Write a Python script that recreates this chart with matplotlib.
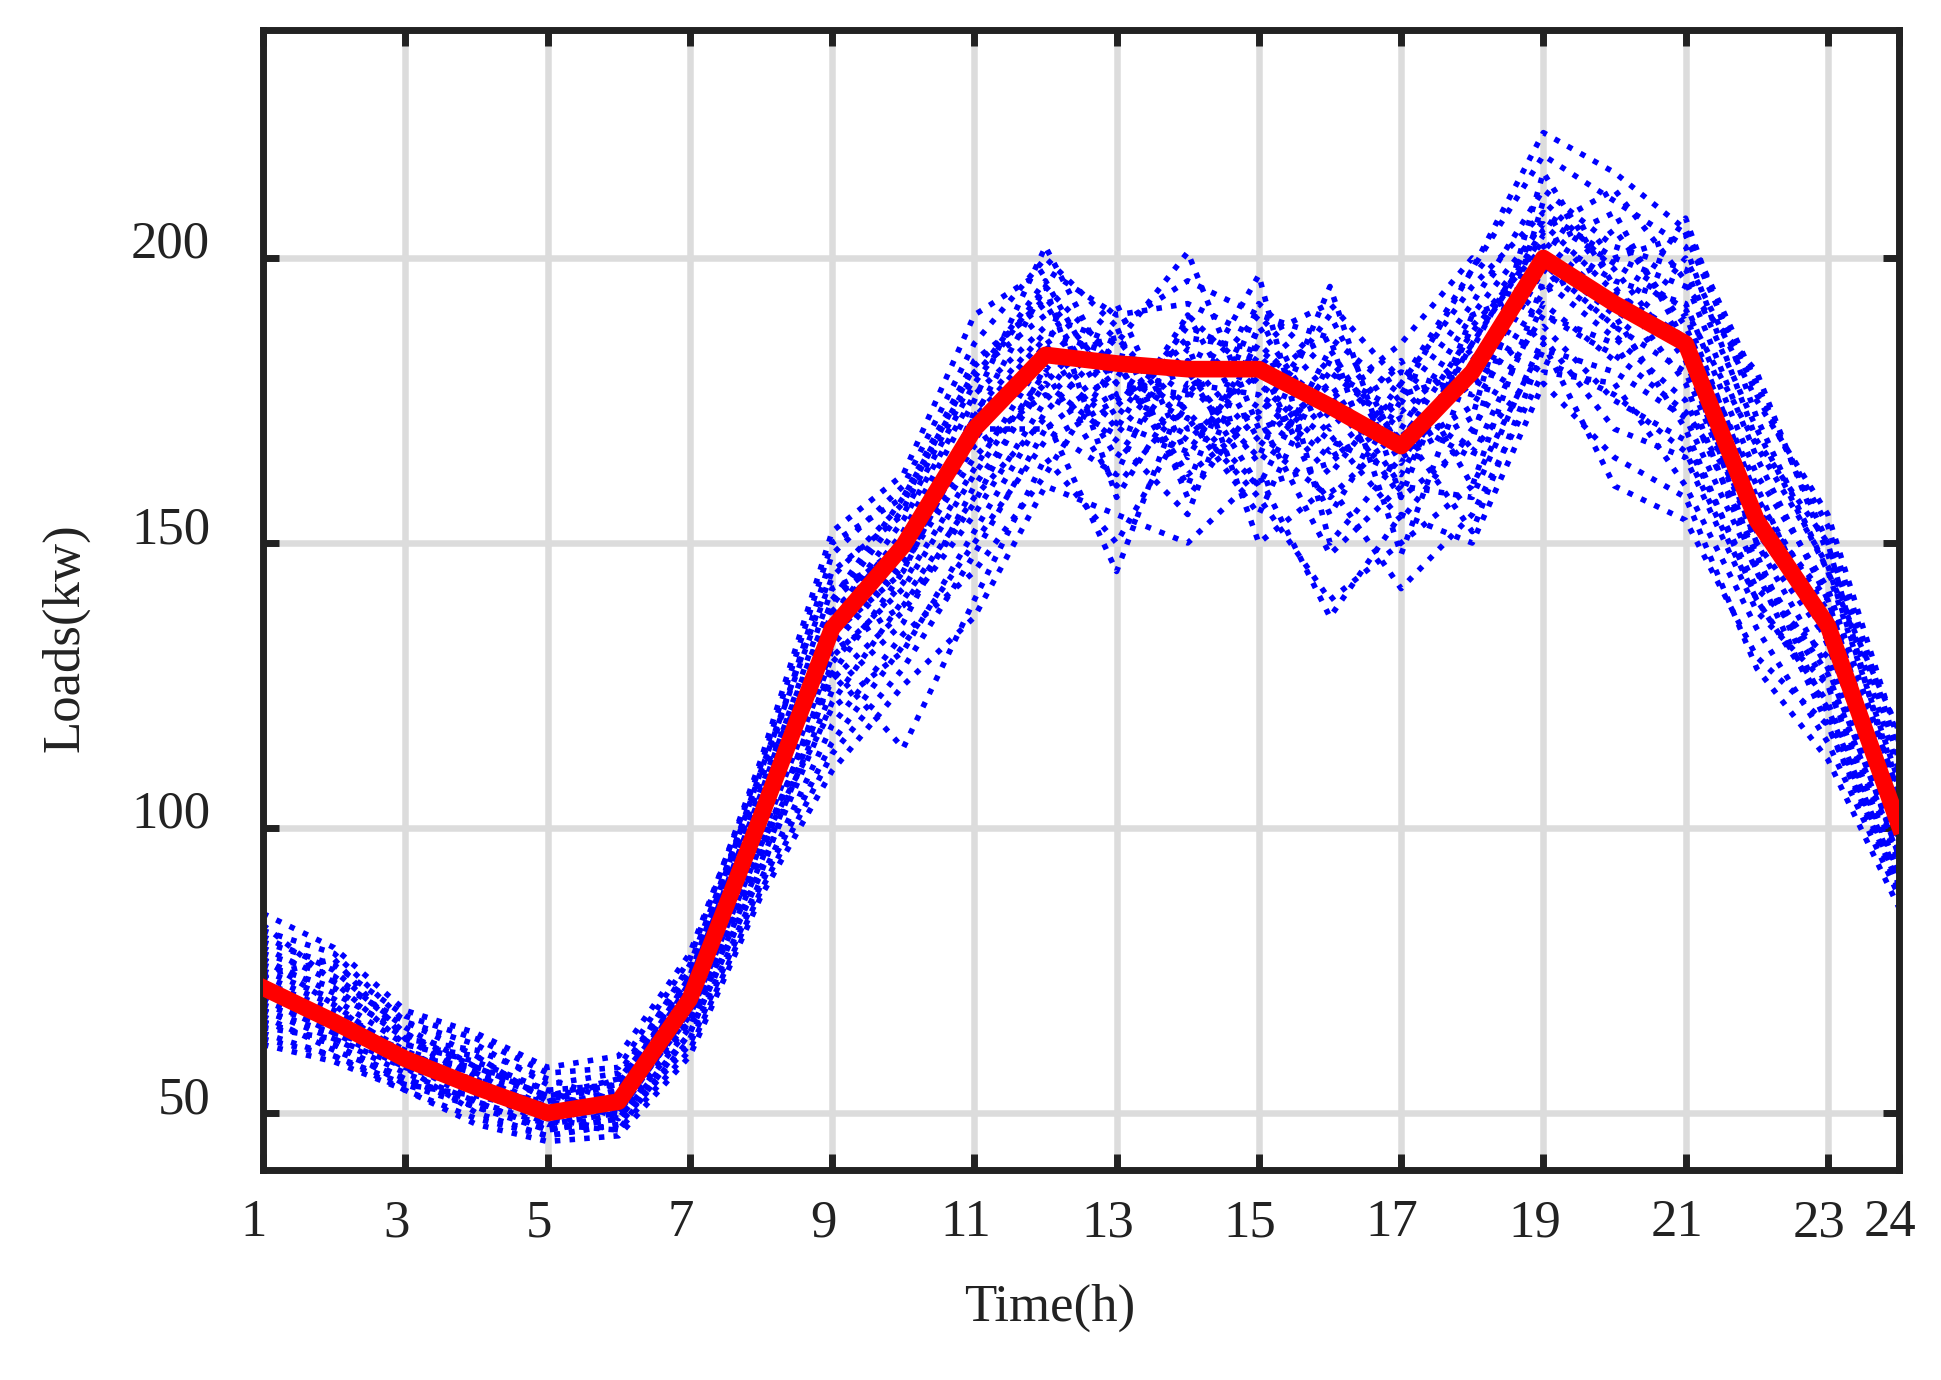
import matplotlib
matplotlib.use('Agg')
import matplotlib.pyplot as plt
import matplotlib.transforms as mtransforms

# data
hours = list(range(1, 25))

expected = [72, 66, 59.5, 54.5, 50, 52, 70, 102, 135, 149.5, 170, 183, 181.5, 180.5,
            180.5, 174, 167, 180, 200, 192, 185, 154, 135.5, 100.5]

scenarios = [
    [78, 74, 65, 58, 53, 55, 74, 108, 148, 160, 185, 200, 188, 196, 190, 186, 176, 198, 222, 215, 205, 178, 150, 112],
    [66, 62, 56, 52, 47, 49, 66, 96, 128, 114, 140, 165, 150, 172, 158, 140, 150, 160, 185, 160, 154, 130, 118, 90],
    [72, 66, 60, 55, 49, 51, 69, 103, 138, 150, 172, 186, 170, 190, 178, 168, 162, 185, 205, 212, 196, 165, 140, 104],
    [75, 70, 62, 60, 52, 50, 68, 100, 132, 146, 165, 178, 192, 165, 185, 172, 180, 176, 198, 188, 207, 172, 145, 108],
    [68, 63, 57, 52, 48, 47, 64, 93, 122, 140, 158, 172, 145, 178, 165, 195, 158, 168, 210, 198, 182, 150, 128, 96],
    [82, 78, 66, 62, 55, 57, 75, 110, 145, 155, 178, 195, 182, 160, 192, 180, 170, 190, 195, 205, 188, 160, 132, 100],
    [70, 64, 58, 50, 46, 48, 62, 90, 115, 132, 150, 168, 175, 185, 150, 160, 142, 155, 180, 178, 160, 135, 115, 88],
    [64, 60, 55, 53, 50, 53, 72, 105, 140, 158, 180, 190, 185, 201, 170, 175, 185, 200, 190, 185, 200, 175, 155, 115],
    [76, 72, 63, 56, 51, 54, 71, 98, 130, 142, 162, 180, 160, 175, 197, 150, 165, 172, 215, 195, 178, 145, 125, 94],
    [73, 68, 61, 55, 49, 52, 70, 104, 136, 152, 175, 202, 178, 168, 180, 186, 148, 182, 200, 190, 170, 140, 122, 92],
    [62, 59, 54, 48, 45, 46, 60, 88, 110, 125, 137, 160, 155, 150, 162, 137, 155, 150, 178, 165, 158, 128, 112, 86],
    [80, 76, 67, 63, 57, 58, 77, 112, 152, 162, 190, 198, 190, 192, 186, 192, 178, 195, 208, 200, 195, 180, 148, 110],
    [69, 65, 59, 54, 48, 50, 67, 97, 126, 138, 155, 175, 188, 158, 175, 165, 172, 165, 192, 182, 190, 158, 138, 102],
    [74, 69, 60, 57, 50, 53, 73, 106, 142, 148, 168, 185, 165, 182, 168, 178, 160, 188, 202, 208, 185, 152, 135, 98],
    [71, 67, 58, 54, 52, 56, 76, 109, 134, 145, 170, 170, 180, 172, 155, 182, 168, 178, 188, 175, 168, 142, 130, 95],
    [85, 79, 68, 64, 58, 60, 78, 111, 150, 158, 182, 192, 172, 188, 182, 155, 175, 192, 212, 202, 198, 170, 145, 117],
    [67, 61, 56, 51, 47, 49, 65, 94, 124, 136, 160, 178, 168, 155, 188, 170, 182, 160, 196, 186, 175, 148, 120, 90],
    [77, 71, 64, 58, 53, 51, 70, 101, 137, 154, 176, 188, 176, 180, 160, 184, 164, 185, 204, 196, 192, 162, 142, 106],
    [63, 60, 54, 49, 46, 48, 63, 91, 118, 134, 145, 162, 182, 162, 172, 148, 160, 158, 186, 170, 165, 138, 125, 92],
    [79, 73, 62, 59, 54, 55, 73, 107, 140, 150, 172, 195, 158, 178, 176, 162, 178, 198, 218, 210, 202, 168, 150, 104],
    [74, 77, 63, 61, 56, 52, 66, 95, 129, 143, 163, 183, 186, 170, 173, 190, 166, 174, 194, 200, 204, 176, 153, 113],
    [65, 63, 58, 56, 49, 47, 61, 89, 113, 128, 148, 170, 162, 190, 168, 158, 170, 152, 184, 180, 172, 145, 118, 89],
    [81, 75, 64, 57, 51, 54, 74, 110, 144, 157, 181, 193, 178, 176, 190, 176, 158, 190, 206, 194, 186, 156, 140, 101],
    [70, 66, 61, 57, 53, 56, 71, 99, 133, 147, 167, 176, 169, 184, 178, 166, 176, 180, 199, 188, 180, 150, 133, 97],
    [77, 69, 59, 52, 47, 50, 69, 102, 131, 139, 157, 181, 171, 166, 183, 169, 154, 170, 190, 183, 173, 155, 137, 99],
    [68, 64, 60, 58, 54, 49, 64, 92, 127, 145, 173, 187, 183, 180, 164, 180, 173, 184, 207, 199, 191, 167, 146, 107],
    [83, 73, 66, 60, 52, 55, 72, 104, 139, 156, 179, 196, 174, 186, 184, 174, 168, 187, 203, 192, 184, 146, 127, 95],
    [66, 62, 55, 51, 48, 51, 67, 97, 121, 131, 152, 173, 186, 173, 160, 164, 175, 166, 182, 176, 166, 140, 121, 91],
]

xticks = [1, 3, 5, 7, 9, 11, 13, 15, 17, 19, 21, 23, 24]
yticks = [50, 100, 150, 200]

plt.rcParams['font.family'] = ['Liberation Serif', 'DejaVu Serif']
plt.rcParams['font.size'] = 38

W, H = 1941, 1380
fig = plt.figure(figsize=(W / 100, H / 100), dpi=100)
ax = fig.add_axes([263 / W, 1 - 1170 / H, (1899 - 263) / W, 1140 / H])

for s in scenarios:
    ax.plot(hours, s, ls=':', color='#0000ff', lw=4.0, zorder=2)
ax.plot(hours, expected, color='#ff0000', lw=12, zorder=3)

ax.set_xlim(1, 24)
ax.set_ylim(40, 240)
ax.set_xticks(xticks)
ax.set_yticks(yticks)
ax.grid(True, color='#dcdcdc', lw=4.7)
ax.set_axisbelow(True)

for sp in ax.spines.values():
    sp.set_color('#222222')
    sp.set_linewidth(5)
ax.tick_params(direction='in', length=11.5, width=5, color='#222222',
               top=True, right=True, labelcolor='#222222')
ax.tick_params(axis='x', pad=21)
ax.tick_params(axis='y', pad=38)

# labels sit a little off-centre, as in the source
shift = mtransforms.ScaledTranslation(-0.09, 0, fig.dpi_scale_trans)
for lab in ax.get_xticklabels():
    lab.set_transform(lab.get_transform() + shift)
plt.setp(ax.get_yticklabels(), va='baseline')

ax.set_xlabel('Time(h)', color='#222222')
ax.set_ylabel('Loads(kw)', color='#222222')
ax.xaxis.set_label_coords(0.481, -0.1000)
ax.yaxis.set_label_coords(-0.106, 0.4667)

fig.savefig('out.png', dpi=100, facecolor='white')
